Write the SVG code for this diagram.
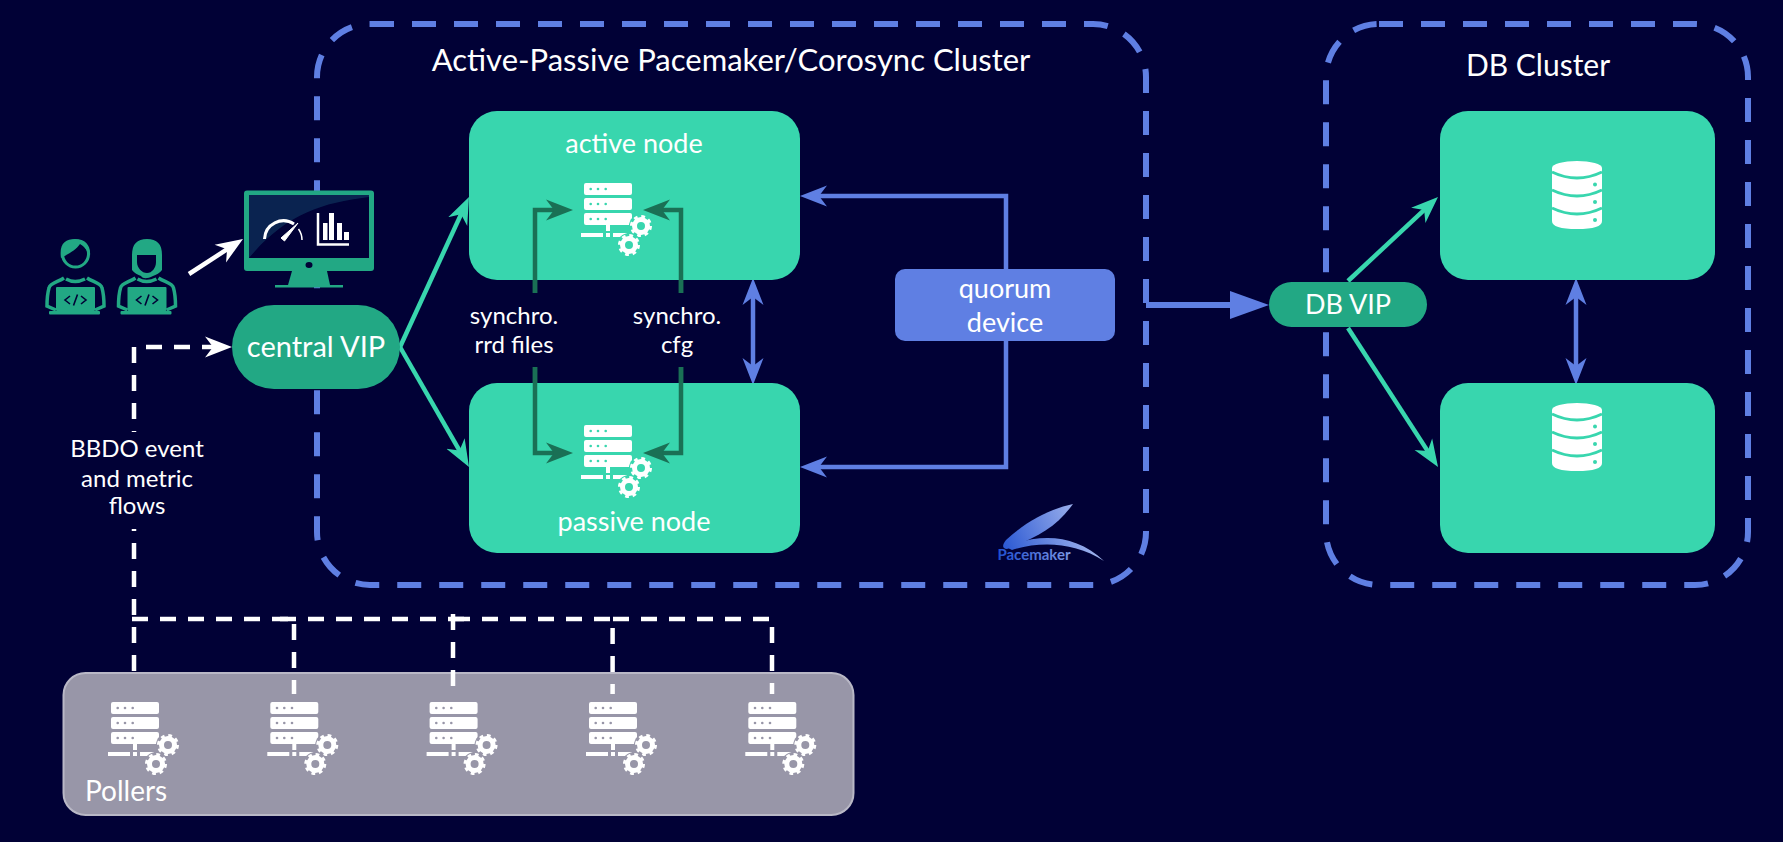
<svg xmlns="http://www.w3.org/2000/svg" xmlns:xlink="http://www.w3.org/1999/xlink" width="1783" height="842" viewBox="0 0 1783 842">
<style>
text{font-family:"Lato","Liberation Sans",sans-serif;fill:#fff;text-anchor:middle;font-weight:400}
.cluster{fill:none;stroke:#5f7fe3;stroke-width:6;stroke-dasharray:24 18}
.node{fill:#38d6ae}
.vip{fill:#22a884}
.wd{fill:none;stroke:#fff;stroke-width:4.5;stroke-dasharray:16 12}
.green{fill:none;stroke:#38d6ae;stroke-width:4.5;marker-end:url(#mGreen)}
.blue{fill:none;stroke:#5f7fe3;stroke-width:4.5;marker-end:url(#mBlue)}
.dgreen{fill:none;stroke:#1a7055;stroke-width:4.5;marker-end:url(#mDark)}
.pg{fill:#22a884}
.db{fill:#fff}
</style>
<defs>
<marker id="mGreen" markerUnits="userSpaceOnUse" viewBox="0 -11 27 22" markerWidth="27" markerHeight="22" refX="17" refY="0" orient="auto"><path d="M0-10.5 27 0 0 10.5 8 0Z" fill="#38d6ae"/></marker>
<marker id="mBlue" markerUnits="userSpaceOnUse" viewBox="0 -11 27 22" markerWidth="27" markerHeight="22" refX="17" refY="0" orient="auto-start-reverse"><path d="M0-10.5 27 0 0 10.5 8 0Z" fill="#5f7fe3"/></marker>
<marker id="mDark" markerUnits="userSpaceOnUse" viewBox="0 -11 27 22" markerWidth="27" markerHeight="22" refX="17" refY="0" orient="auto"><path d="M0-10.5 27 0 0 10.5 8 0Z" fill="#1a7055"/></marker>
<marker id="mWhite" markerUnits="userSpaceOnUse" viewBox="0 -11 27 22" markerWidth="27" markerHeight="22" refX="17" refY="0" orient="auto"><path d="M0-10.5 27 0 0 10.5 8 0Z" fill="#fff"/></marker>
<marker id="mTri" markerUnits="userSpaceOnUse" viewBox="0 -14 39 28" markerWidth="39" markerHeight="28" refX="2" refY="0" orient="auto"><path d="M0-14 39 0 0 14Z" fill="#5f7fe3"/></marker>
<linearGradient id="pmk" gradientUnits="userSpaceOnUse" x1="995" y1="550" x2="1085" y2="510"><stop offset="0" stop-color="#1f4fd0"/><stop offset="1" stop-color="#a6b8ee"/></linearGradient>
<g id="gear"><circle r="12" fill="currentColor"/><circle r="6.5" fill="none" stroke="#fff" stroke-width="5"/><circle r="9.5" fill="none" stroke="#fff" stroke-width="3" stroke-dasharray="3.7 3.76"/></g>
<g id="srv">
<rect width="48" height="12" rx="2" fill="#fff"/><rect y="15" width="48" height="12" rx="2" fill="#fff"/><rect y="30" width="48" height="12" rx="2" fill="#fff"/>
<g fill="currentColor"><circle cx="6.7" cy="6" r="1.3"/><circle cx="14" cy="6" r="1.3"/><circle cx="21.7" cy="6" r="1.3"/><circle cx="6.7" cy="21" r="1.3"/><circle cx="14" cy="21" r="1.3"/><circle cx="21.7" cy="21" r="1.3"/><circle cx="6.7" cy="36" r="1.3"/><circle cx="14" cy="36" r="1.3"/><circle cx="21.7" cy="36" r="1.3"/></g>
<path d="M22 42h4v6h-4zM22 50h4v4h-4zM-3 50H19v4H-3zM29 50H43v4H29z" fill="#fff"/>
<use xlink:href="#gear" href="#gear" x="57" y="43"/><use xlink:href="#gear" href="#gear" x="45" y="62"/>
</g>
<g id="dbi">
<ellipse cx="1577" cy="168" rx="25" ry="7" class="db"/>
<path d="M1552 168V221Q1552 229 1577 229T1602 221V168Z" class="db"/>
<path d="M1552 172Q1577 184 1602 172M1552 190Q1577 202 1602 190M1552 208Q1577 220 1602 208" fill="none" stroke="#38d6ae" stroke-width="3"/>
<g fill="#38d6ae"><circle cx="1595" cy="184.500" r="2"/><circle cx="1595" cy="202" r="2"/><circle cx="1595" cy="220" r="2"/></g>
</g>
<g id="laptop"><rect x="56" y="287" width="39" height="24" rx="1" class="pg"/><rect x="49" y="311" width="51" height="3.500" rx="1" class="pg"/><path d="M70 296 65 300 70 304M81 296 86 300 81 304M77.500 294.500 73.500 305.500" fill="none" stroke="#010136" stroke-width="1.600"/><path d="M64 278C58 282 50 283 49 288 47 295 47 303 47 306L56 310M87 278C93 282 101 283 102 288 104 295 104 303 104 306L95 310M66 279Q75 284 85 279" fill="none" stroke="#22a884" stroke-width="3.500"/></g>
</defs>

<rect width="1783" height="842" fill="#010136"/>

<g id="clusters">
<g id="cluster-active"><rect x="317" y="24" width="829" height="561" rx="53" class="cluster"/><text x="731" y="71" font-size="31">Active-Passive Pacemaker/Corosync Cluster</text></g>
<g id="cluster-db"><rect x="1326" y="24" width="422" height="561" rx="53" class="cluster"/><text x="1538" y="76" font-size="30">DB Cluster</text></g>
</g>

<g id="connectors">
<path class="green" d="M400 347 464.800 206.100"/>
<path class="green" d="M400 347 464 458.300"/>
<path class="green" d="M1348 281 1430.700 203.800"/>
<path class="green" d="M1348 328 1432.600 458.600"/>
<path class="blue" d="M1006 269V196H810"/>
<path class="blue" d="M1006 341V467H810"/>
<path class="blue" style="marker-start:url(#mBlue)" d="M753 288V375"/>
<path class="blue" style="marker-start:url(#mBlue)" d="M1576 288V375"/>
<path fill="none" stroke="#5f7fe3" stroke-width="6" marker-end="url(#mTri)" d="M1146 305H1232"/>
<path class="dgreen" d="M535 293V210H563"/>
<path class="dgreen" d="M681 293V210H653"/>
<path class="dgreen" d="M535 367V453H563"/>
<path class="dgreen" d="M681 367V453H653"/>
<path fill="none" stroke="#fff" stroke-width="4.500" marker-end="url(#mWhite)" d="M189 274 234.600 244.400"/>
<path class="wd" d="M134 347V694"/>
<path class="wd" marker-end="url(#mWhite)" d="M146 347H222"/>
</g>

<g id="label-bbdo">
<rect x="62" y="432" width="150" height="97" fill="#010136"/>
<text x="137" y="457" font-size="24">BBDO event</text><text x="137" y="487" font-size="24">and metric</text><text x="137" y="514" font-size="24">flows</text>
</g>

<g id="node-pollers">
<rect x="63.500" y="673" width="790" height="142" rx="22" fill="#9896a8" stroke="#b9b8c6" stroke-width="2"/>
<text x="85" y="801" font-size="28" style="text-anchor:start">Pollers</text>
<use xlink:href="#srv" href="#srv" x="111" y="702" style="color:#9896a8"/>
<use xlink:href="#srv" href="#srv" x="270.300" y="702" style="color:#9896a8"/>
<use xlink:href="#srv" href="#srv" x="429.600" y="702" style="color:#9896a8"/>
<use xlink:href="#srv" href="#srv" x="589" y="702" style="color:#9896a8"/>
<use xlink:href="#srv" href="#srv" x="748.300" y="702" style="color:#9896a8"/>
</g>

<g id="poller-links">
<path class="wd" d="M132 619H290"/>
<path class="wd" d="M280 619H466"/>
<path class="wd" d="M454 619H612"/>
<path class="wd" d="M613 619H771"/>
<path class="wd" d="M294 624V694"/>
<path class="wd" d="M453 614V686"/>
<path class="wd" d="M612.600 628V694"/>
<path class="wd" d="M772 627V694"/>
</g>

<g id="node-users">
<use xlink:href="#laptop" href="#laptop"/>
<circle cx="75.500" cy="254" r="13" fill="none" stroke="#22a884" stroke-width="3"/>
<path d="M61 258C59 244 65 239 75 239 86 239 91 246 90 256 86 248 83 246 80 244 76 250 70 253 61 258Z" class="pg"/>
<use xlink:href="#laptop" href="#laptop" x="71.500"/>
<path d="M132 270V255C132 244 137 239 147 239 157 239 162 244 162 255V270C160 273 156 275 153 276 147 279 143 279 141 276 138 275 134 273 132 270ZM137 255V262C137 268 142 273 147 273 152 273 156 268 156 262V255Z" class="pg" fill-rule="evenodd"/>
</g>

<g id="node-monitor">
<rect x="244" y="190.500" width="130" height="80.500" rx="3" fill="#22a884"/>
<path d="M292 271H327L330 285H288Z" fill="#22a884"/><rect x="275" y="285" width="68" height="2.500" fill="#22a884"/>
<rect x="249" y="195" width="120" height="63" fill="#010136"/>
<path d="M249 195H369V197C320 203 285 215 249 258Z" fill="#0a2350"/>
<ellipse cx="309" cy="265" rx="3.500" ry="3" fill="#010136"/>
<path d="M264.500 239A19 19 0 0 1 294 224" fill="none" stroke="#fff" stroke-width="3"/>
<path d="M298.500 229A19 19 0 0 1 302 240" fill="none" stroke="#fff" stroke-width="1.500"/>
<path d="M281 238 298 223 284.500 241Z" fill="#fff" stroke="#fff"/>
<path d="M318 213V244.500H349" fill="none" stroke="#fff" stroke-width="2.500"/>
<path d="M323 223h4.500v17H323zM329 213h5v27h-5zM337 223h5v17h-5zM344 232h5v8h-5z" fill="#fff"/>
</g>

<g id="node-central-vip"><rect x="232" y="305" width="168" height="84" rx="42" class="vip"/><text x="316" y="357" font-size="29">central VIP</text></g>
<g id="node-db-vip"><rect x="1269" y="282" width="158" height="45" rx="22.500" class="vip"/><text x="1348" y="314" font-size="27">DB VIP</text></g>
<g id="node-quorum"><rect x="895" y="269" width="220" height="72" rx="10" fill="#5f7fe3"/><text x="1005" y="298" font-size="27">quorum</text><text x="1005" y="332" font-size="27">device</text></g>

<g id="node-active"><rect x="469" y="111" width="331" height="169" rx="28" class="node"/><text x="634" y="153" font-size="27">active node</text><use xlink:href="#srv" href="#srv" x="584" y="183" style="color:#38d6ae"/></g>
<g id="node-passive"><rect x="469" y="383" width="331" height="170" rx="28" class="node"/><text x="634" y="531" font-size="27">passive node</text><use xlink:href="#srv" href="#srv" x="584" y="425" style="color:#38d6ae"/></g>
<g id="node-db1"><rect x="1440" y="111" width="275" height="169" rx="28" class="node"/><use xlink:href="#dbi" href="#dbi"/></g>
<g id="node-db2"><rect x="1440" y="383" width="275" height="170" rx="28" class="node"/><use xlink:href="#dbi" href="#dbi" y="242"/></g>

<g id="connectors-top">
<path class="dgreen" d="M535 293V210H563"/>
<path class="dgreen" d="M681 293V210H653"/>
<path class="dgreen" d="M535 367V453H563"/>
<path class="dgreen" d="M681 367V453H653"/>
</g>

<g id="labels-synchro">
<text x="514" y="324" font-size="24">synchro.</text><text x="514" y="353" font-size="24">rrd files</text>
<text x="677" y="324" font-size="24">synchro.</text><text x="677" y="353" font-size="24">cfg</text>
</g>

<g id="pacemaker-logo">
<path d="M1073 504C1050 509 1028 520 1006 540 1002 545 1002 549 1007 549 1035 538 1056 528 1073 504Z" fill="url(#pmk)"/>
<path d="M1006 547C1040 533 1075 534 1104 561 1075 542 1040 541 1012 550Z" fill="url(#pmk)"/>
<text x="1034" y="560" font-size="15" font-weight="700" fill="url(#pmk)" style="fill:url(#pmk);font-weight:700">Pacemaker</text>
</g>
</svg>
